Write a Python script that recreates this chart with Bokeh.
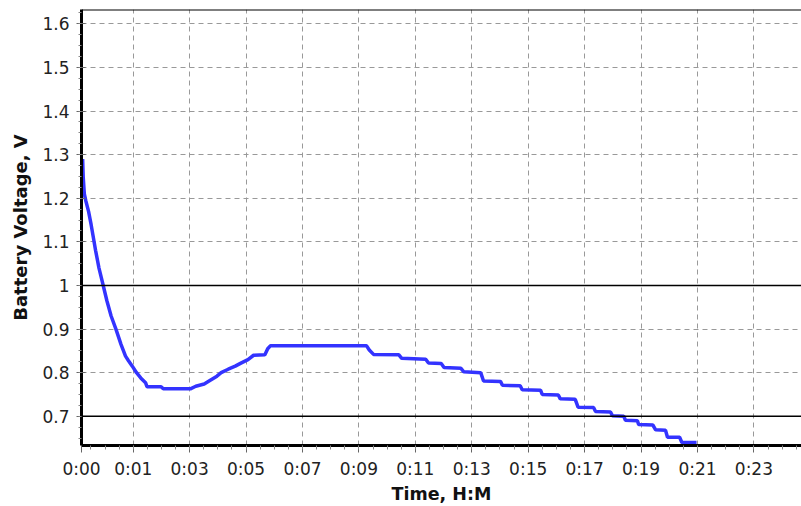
from bokeh.plotting import figure
from bokeh.models import FixedTicker, Span, Range1d, CustomJSTickFormatter
from bokeh.embed import file_html
from bokeh.resources import INLINE

# Discharge curve: elapsed time in minutes and battery voltage in volts
time_min = [
    0.04, 0.06, 0.10, 0.15, 0.25, 0.34, 0.42, 0.50, 0.62, 0.77,
    0.90, 1.05, 1.22, 1.40, 1.56, 1.66, 1.80, 1.95, 2.10, 2.27,
    2.32, 2.82, 2.90, 3.86, 4.05, 4.35, 4.55, 4.80, 4.95, 5.20,
    5.45, 5.65, 5.90, 6.10, 6.50, 6.60, 6.70, 10.10, 10.20, 10.35,
    11.25, 11.35, 12.20, 12.30, 12.75, 12.85, 13.45, 13.55, 14.15, 14.25,
    14.85, 14.92, 15.55, 15.62, 16.27, 16.33, 16.90, 16.97, 17.50, 17.60,
    18.15, 18.22, 18.75, 18.82, 19.22, 19.28, 19.70, 19.75, 20.25, 20.35,
    20.70, 20.77, 21.20, 21.28, 21.80,
]
voltage = [
    1.290, 1.250, 1.210, 1.195, 1.170, 1.140, 1.110, 1.080, 1.040, 1.000,
    0.965, 0.930, 0.900, 0.865, 0.838, 0.828, 0.815, 0.800, 0.788, 0.777,
    0.768, 0.768, 0.763, 0.763, 0.769, 0.774, 0.782, 0.792, 0.800, 0.808,
    0.815, 0.822, 0.830, 0.840, 0.841, 0.855, 0.862, 0.862, 0.852, 0.842,
    0.841, 0.833, 0.831, 0.822, 0.821, 0.812, 0.810, 0.802, 0.800, 0.781,
    0.780, 0.771, 0.770, 0.761, 0.760, 0.750, 0.749, 0.740, 0.739, 0.721,
    0.720, 0.711, 0.710, 0.701, 0.700, 0.691, 0.690, 0.681, 0.680, 0.669,
    0.668, 0.652, 0.652, 0.640, 0.640,
]

# Time axis ticks (minutes) and their H:M labels
x_tick_pos = [0.0, 1.833, 3.833, 5.833, 7.833, 9.833, 11.833, 13.833,
              15.833, 17.833, 19.833, 21.833, 23.833]
x_tick_labels = ["0:00", "0:01", "0:03", "0:05", "0:07", "0:09", "0:11",
                 "0:13", "0:15", "0:17", "0:19", "0:21", "0:23"]

# Voltage axis ticks and labels
y_tick_pos = [0.7, 0.8, 0.9, 1.0, 1.1, 1.2, 1.3, 1.4, 1.5, 1.6]
y_tick_labels = ["0.7", "0.8", "0.9", "1", "1.1", "1.2", "1.3", "1.4", "1.5", "1.6"]

# Reference voltage levels drawn as solid lines
ref_levels = [1.0, 0.7]

X_END = 25.52
Y_START, Y_END = 0.633, 1.633

FONT = "DejaVu Sans"

p = figure(
    width=801, height=506,
    output_backend="svg", toolbar_location=None,
    x_range=Range1d(0, X_END), y_range=Range1d(Y_START, Y_END),
    min_border_left=81, min_border_right=0,
    min_border_top=9, min_border_bottom=60,
    background_fill_color="white", border_fill_color="white",
)
p.outline_line_color = None

x_minor = [0.333, 0.833, 1.333] + [1.833 + 0.5 * k for k in range(48)]
y_minor = [0.65 + 0.025 * k for k in range(40)]

xticker = FixedTicker(ticks=x_tick_pos, minor_ticks=x_minor)
yticker = FixedTicker(ticks=y_tick_pos, minor_ticks=y_minor)

nearest_label = """
let best = 0;
for (let i = 0; i < pos.length; i++) {
    if (Math.abs(pos[i] - tick) < Math.abs(pos[best] - tick)) { best = i; }
}
return labels[best];
"""

p.xaxis.ticker = xticker
p.yaxis.ticker = yticker
p.xaxis.formatter = CustomJSTickFormatter(
    args=dict(pos=x_tick_pos, labels=x_tick_labels), code=nearest_label)
p.yaxis.formatter = CustomJSTickFormatter(
    args=dict(pos=y_tick_pos, labels=y_tick_labels), code=nearest_label)

for ax in (p.xaxis[0], p.yaxis[0]):
    ax.axis_line_color = "black"
    ax.axis_line_width = 3
    ax.major_tick_line_color = "#666666"
    ax.minor_tick_line_color = "#888888"
    ax.major_label_text_font = FONT
    ax.major_label_text_font_size = "17px"
    ax.major_label_text_color = "#222222"
    ax.axis_label_text_font = FONT
    ax.axis_label_text_font_style = "bold"
    ax.axis_label_text_color = "#111111"

p.xaxis.major_tick_in = 0
p.xaxis.major_tick_out = 7
p.xaxis.minor_tick_in = 0
p.xaxis.minor_tick_out = 4
p.xaxis.major_label_standoff = 6
p.xaxis.axis_label = "Time, H:M"
p.xaxis.axis_label_text_font_size = "17.5px"
p.xaxis.axis_label_standoff = 2

p.yaxis.major_tick_in = 4
p.yaxis.major_tick_out = 5
p.yaxis.minor_tick_in = 0
p.yaxis.minor_tick_out = 3
p.yaxis.major_label_standoff = 7
p.yaxis.axis_label = "Battery Voltage, V"
p.yaxis.axis_label_text_font_size = "18px"
p.yaxis.axis_label_standoff = 8

p.xgrid.ticker = xticker
p.ygrid.ticker = yticker
for g in (p.xgrid[0], p.ygrid[0]):
    g.grid_line_color = "#999999"
    g.grid_line_dash = "5 4"
    g.grid_line_width = 1

for level in ref_levels:
    p.add_layout(Span(location=level, dimension="width",
                      line_color="black", line_width=1.5))

# top edge of the plotting area
p.add_layout(Span(location=Y_END, dimension="width",
                  line_color="black", line_width=2))

p.line(time_min, voltage, line_color="#3333ff", line_width=3.5)

open("out.html", "w").write(file_html(p, INLINE))
